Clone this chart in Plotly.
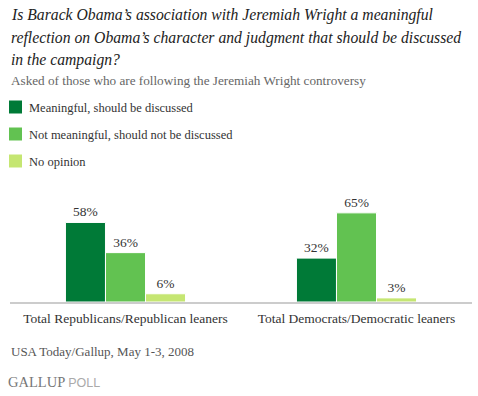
import plotly.graph_objects as go

categories = ["Total Republicans/Republican leaners", "Total Democrats/Democratic leaners"]
series_names = ["Meaningful, should be discussed",
                "Not meaningful, should not be discussed",
                "No opinion"]
meaningful = [58, 32]
not_meaningful = [36, 65]
no_opinion = [6, 3]
colors = ["#007a37", "#62c251", "#c5e672"]

title_lines = [
    "Is Barack Obama\u2019s association with Jeremiah Wright a meaningful",
    "reflection on Obama\u2019s character and judgment that should be discussed",
    "in the campaign?",
]
subtitle = "Asked of those who are following the Jeremiah Wright controversy"
source = "USA Today/Gallup, May 1-3, 2008"

W, H = 478, 396
L, R = 10, 6
T, B = 206, 94
PH = H - T - B
PW = W - L - R

def py(p):
    return (H - B - p) / PH

def px(p):
    return (p - L) / PW

SERIF = "Liberation Serif"

fig = go.Figure()
for name, vals, col in zip(series_names, [meaningful, not_meaningful, no_opinion], colors):
    fig.add_trace(go.Bar(
        x=categories, y=vals, name=name,
        marker=dict(color=col, line=dict(color="white", width=1)),
        text=[f"{v}%" for v in vals], textposition="outside",
        textfont=dict(family=SERIF, size=13.5, color="#333333"),
        cliponaxis=False, showlegend=False,
    ))

annotations = []
for i, line in enumerate(title_lines):
    annotations.append(dict(
        text=f"<i>{line}</i>", x=px(9), y=py([15, 38, 60][i]),
        xref="paper", yref="paper", xanchor="left", yanchor="middle",
        showarrow=False, font=dict(family=SERIF, size=15.7, color="#222222")))
annotations.append(dict(
    text=subtitle, x=px(9), y=py(81), xref="paper", yref="paper",
    xanchor="left", yanchor="middle", showarrow=False,
    font=dict(family=SERIF, size=13.2, color="#666666")))

shapes = []
for i, (name, col) in enumerate(zip(series_names, colors)):
    cy = [107, 134, 161][i]
    shapes.append(dict(type="rect", xref="paper", yref="paper",
                       x0=px(9), x1=px(22), y0=py(cy - 6.5), y1=py(cy + 6.5),
                       fillcolor=col, line=dict(width=0)))
    annotations.append(dict(
        text=name, x=px(27), y=py(cy + 1), xref="paper", yref="paper",
        xanchor="left", yanchor="middle", showarrow=False,
        font=dict(family=SERIF, size=12.5, color="#333333")))

annotations.append(dict(
    text=source, x=px(9), y=py(351), xref="paper", yref="paper",
    xanchor="left", yanchor="middle", showarrow=False,
    font=dict(family=SERIF, size=13, color="#555555")))
annotations.append(dict(
    text="<span style='color:#777777'>GALLUP</span> <span style='color:#aaaaaa;font-family:Liberation Sans;font-size:12.5px'>POLL</span>",
    x=px(6), y=py(382), xref="paper", yref="paper",
    xanchor="left", yanchor="middle", showarrow=False,
    font=dict(family=SERIF, size=14.5, color="#777777")))

fig.update_layout(
    width=W, height=H, margin=dict(l=L, r=R, t=T, b=B),
    paper_bgcolor="white", plot_bgcolor="white",
    barmode="group", bargap=0.48, bargroupgap=0,
    xaxis=dict(showline=True, linecolor="#cccccc", linewidth=2, ticks="",
               tickfont=dict(family=SERIF, size=13.5, color="#333333"),
               ticklabelstandoff=3,
               showgrid=False, range=[-0.5, 1.5]),
    yaxis=dict(range=[0, 70], visible=False, showgrid=False),
    annotations=annotations, shapes=shapes,
)

fig.write_html("out.html", config={"displayModeBar": False},
               post_script="document.body.style.margin='0';")
